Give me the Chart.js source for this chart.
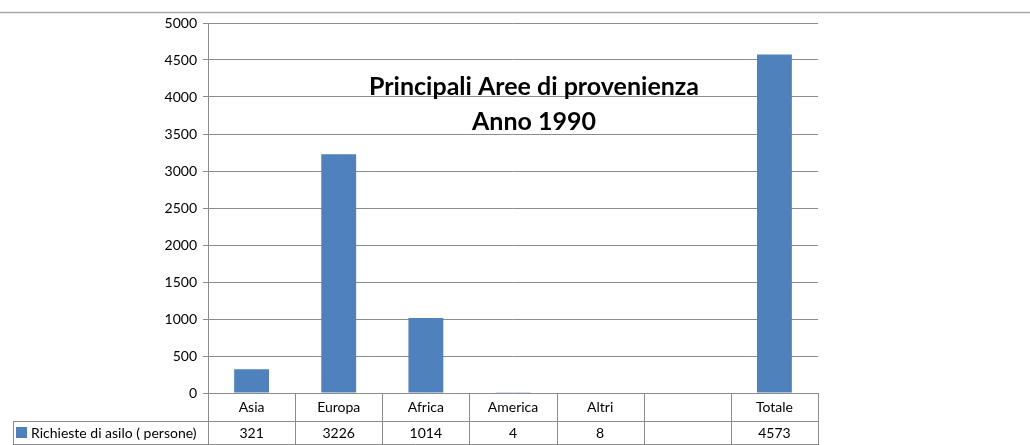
<!doctype html>
<html lang="it">
  <head>
    <meta charset="utf-8">
    <title>Richieste di asilo 1990</title>
    <script src="https://cdn.jsdelivr.net/npm/chart.js@4.4.1/dist/chart.umd.min.js"></script>
    <style>
      html, body { margin: 0; padding: 0; background: #fff; }
      canvas { display: block; }
    </style>
  </head>
  <body>
    <canvas id="asiloChart" width="1030" height="445"></canvas>

    <script>
        // data
        const categories = ['Asia', 'Europa', 'Africa', 'America', 'Altri', '', 'Totale'];
        const richieste = [321, 3226, 1014, 4, 8, null, 4573];
        const seriesLabel = 'Richieste di asilo ( persone)';
        const titleLines = ['Principali Aree di provenienza', 'Anno 1990'];

        const FONT = 'Lato, "Open Sans", sans-serif';
        const GRID = '#8c8c8c';
        const BAR = '#4f81bd';

        // title inside the plot, top rule and the data table under the axis
        const extras = {
            id: 'extras',
            afterDraw(chart) {
                const ctx = chart.ctx;
                const area = chart.chartArea;
                const xs = chart.scales.x;
                const n = categories.length;
                const step = (area.right - area.left) / n;
                const row1 = area.bottom + 28;
                const row2 = row1 + 24;

                ctx.save();
                // top rule across the page
                ctx.strokeStyle = '#a6a6a6';
                ctx.lineWidth = 1.5;
                ctx.beginPath();
                ctx.moveTo(0, 12.5);
                ctx.lineTo(chart.width, 12.5);
                ctx.stroke();

                // title
                ctx.fillStyle = '#000';
                ctx.font = 'bold 25px ' + FONT;
                ctx.textAlign = 'center';
                ctx.textBaseline = 'middle';
                ctx.fillText(titleLines[0], 534, 87);
                ctx.fillText(titleLines[1], 534, 122);

                // table lines
                ctx.strokeStyle = GRID;
                ctx.lineWidth = 1;
                ctx.beginPath();
                for (let i = 0; i <= n; i++) {
                    const px = Math.round(area.left + i * step) + 0.5;
                    ctx.moveTo(px, area.bottom);
                    ctx.lineTo(px, row2);
                }
                ctx.moveTo(13.5, row1);
                ctx.lineTo(13.5, row2);
                ctx.moveTo(13.5, row1 + 0.5);
                ctx.lineTo(area.right, row1 + 0.5);
                ctx.moveTo(13.5, row2 - 0.5);
                ctx.lineTo(area.right, row2 - 0.5);
                ctx.stroke();

                // category row and value row
                ctx.font = '14px ' + FONT;
                ctx.fillStyle = '#000';
                categories.forEach((c, i) => {
                    const cx = xs.getPixelForValue(i);
                    ctx.fillText(c, cx, area.bottom + 14);
                    const v = richieste[i];
                    ctx.fillText(v === null ? '' : String(v), cx, row1 + 12);
                });

                // legend key in the table
                ctx.fillStyle = BAR;
                ctx.fillRect(16, row1 + 6, 11, 11);
                ctx.fillStyle = '#000';
                ctx.textAlign = 'left';
                ctx.fillText(seriesLabel, 31, row1 + 12);
                ctx.restore();
            }
        };

        const ctx = document.getElementById('asiloChart').getContext('2d');
        const chart = new Chart(ctx, {
            type: 'bar',
            data: {
                labels: categories,
                datasets: [{
                    label: seriesLabel,
                    data: richieste,
                    backgroundColor: BAR,
                    borderWidth: 0,
                    barPercentage: 0.4,
                    categoryPercentage: 1
                }]
            },
            options: {
                responsive: false,
                animation: false,
                layout: {
                    padding: { top: 23, bottom: 52, left: 0, right: 212 }
                },
                scales: {
                    x: {
                        display: false
                    },
                    y: {
                        min: 0,
                        max: 5000,
                        ticks: {
                            stepSize: 500,
                            color: '#000',
                            font: { family: FONT, size: 14 },
                            padding: 6,
                            callback: (v) => String(v)
                        },
                        grid: {
                            color: GRID,
                            tickLength: 5,
                            lineWidth: 1
                        },
                        border: { display: true, color: GRID },
                        afterFit(scale) { scale.width = 208; }
                    }
                },
                plugins: {
                    legend: { display: false },
                    title: { display: false },
                    tooltip: { enabled: false }
                }
            },
            plugins: [extras]
        });
    </script>
  </body>
</html>
